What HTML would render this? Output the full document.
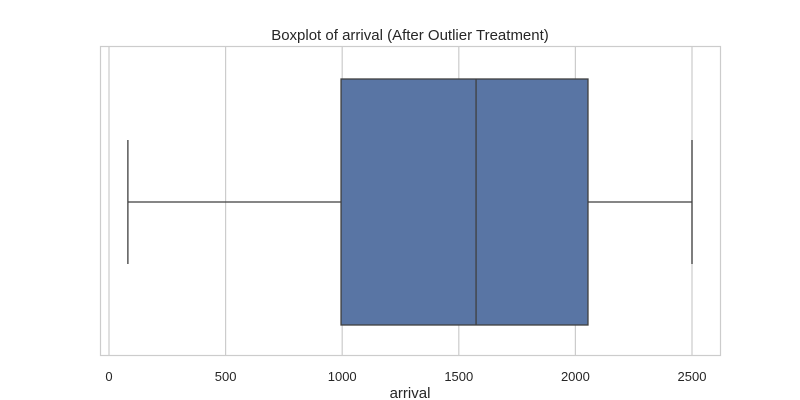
<!DOCTYPE html>
<html><head><meta charset="utf-8"><style>
body{margin:0;background:#fff;}
svg{display:block;font-family:"Liberation Sans","DejaVu Sans",sans-serif;}
</style></head><body>
<svg id="chart" width="800" height="400">
<text x="410" y="40" text-anchor="middle" font-size="15" fill="#262626">Boxplot of arrival (After Outlier Treatment)</text>
<g id="grid"></g>
<g id="box"></g>
<rect x="100.5" y="46.5" width="620" height="309" fill="none" stroke="#cccccc" stroke-width="1.2"/>
<g id="ticks"></g>
<text x="410" y="398" text-anchor="middle" font-size="15" fill="#262626">arrival</text>
</svg>
<script>
const ticks=[0,500,1000,1500,2000,2500];
const whiskerLow=[81];
const q1=[995];
const median=[1574];
const q3=[2054];
const whiskerHigh=[2500];
const NS="http://www.w3.org/2000/svg";
const x=v=>109+v*0.2332;
function mk(tag,attrs,parent){const e=document.createElementNS(NS,tag);for(const k in attrs)e.setAttribute(k,attrs[k]);parent.appendChild(e);return e;}
const grid=document.getElementById('grid'),tk=document.getElementById('ticks'),bx=document.getElementById('box');
ticks.forEach(t=>{
 const l=mk('line',{x1:x(t),x2:x(t),y1:46,y2:355,stroke:'#cccccc','stroke-width':1.2},grid);
 
 
 const tx=mk('text',{x:x(t),y:381,'text-anchor':'middle','font-size':13,fill:'#262626'},tk);
 tx.textContent=t;
 
 
});
const c='#3f3f3f',yc=202,boxTop=79,boxBot=325,capT=140,capB=264;
const w1=mk('line',{x1:x(whiskerLow[0]),x2:x(q1[0]),y1:yc,y2:yc,stroke:c,'stroke-width':1.3},bx);


const w2=mk('line',{x1:x(q3[0]),x2:x(whiskerHigh[0]),y1:yc,y2:yc,stroke:c,'stroke-width':1.3},bx);


const c1=mk('line',{x1:x(whiskerLow[0]),x2:x(whiskerLow[0]),y1:capT,y2:capB,stroke:c,'stroke-width':1.3},bx);


const c2=mk('line',{x1:x(whiskerHigh[0]),x2:x(whiskerHigh[0]),y1:capT,y2:capB,stroke:c,'stroke-width':1.3},bx);


const r=mk('rect',{x:x(q1[0]),y:boxTop,width:x(q3[0])-x(q1[0]),height:boxBot-boxTop,fill:'#5975a4',stroke:c,'stroke-width':1.3},bx);


const m=mk('line',{x1:x(median[0]),x2:x(median[0]),y1:boxTop,y2:boxBot,stroke:c,'stroke-width':1.3},bx);


</script>
</body></html>
